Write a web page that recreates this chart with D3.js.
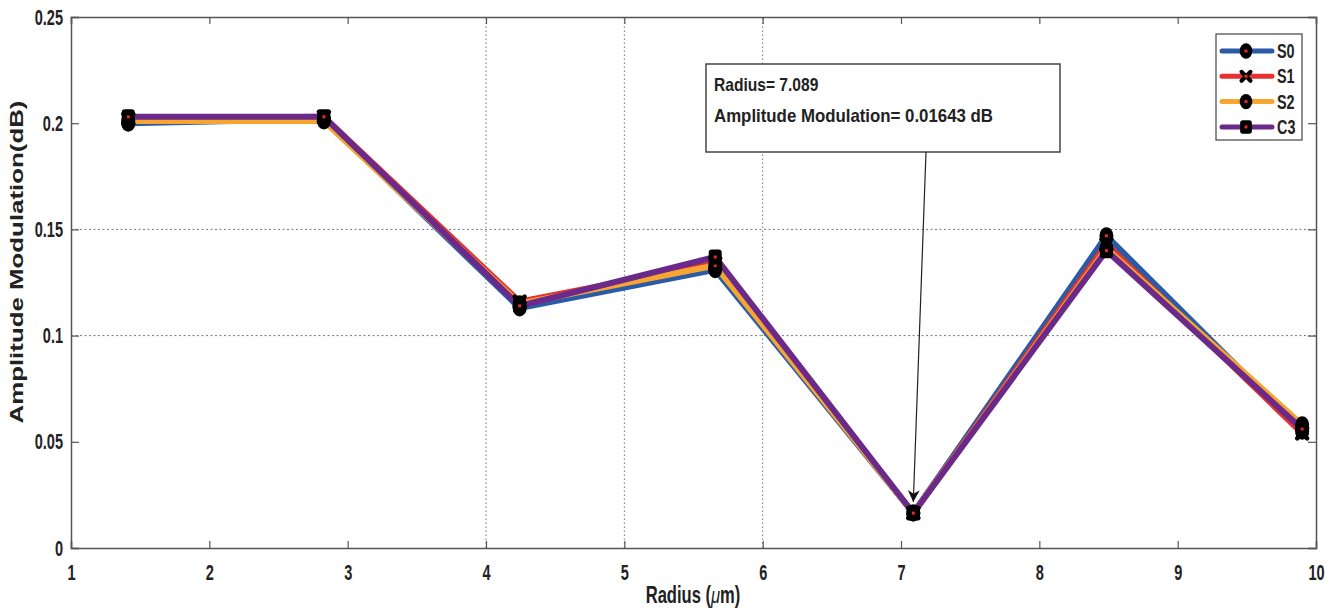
<!DOCTYPE html>
<html>
<head>
<meta charset="utf-8">
<script src="https://cdnjs.cloudflare.com/ajax/libs/d3/7.8.5/d3.min.js"></script>
<style>
body { margin: 0; background: #fff; }
text { font-family: "Liberation Sans", Arial, sans-serif; font-weight: bold; fill: #222; }
</style>
</head>
<body>
<svg id="chart" width="1336" height="609"></svg>
<script>
var radius = [1.414, 2.828, 4.243, 5.657, 7.089, 8.485, 9.9];
var s0 = [0.200, 0.202, 0.113, 0.131, 0.01643, 0.147, 0.055];
var s1 = [0.202, 0.203, 0.116, 0.134, 0.01643, 0.143, 0.054];
var s2 = [0.201, 0.201, 0.115, 0.133, 0.01643, 0.141, 0.058];
var c3 = [0.203, 0.203, 0.114, 0.137, 0.01643, 0.140, 0.056];
var seriesNames = ["S0", "S1", "S2", "C3"];
var xTicks = [1, 2, 3, 4, 5, 6, 7, 8, 9, 10];
var yTicks = [0, 0.05, 0.1, 0.15, 0.2, 0.25];
var xGrid = [4, 5, 6];
var yGrid = [0.1, 0.15];

var series = [
	{ name: seriesNames[0], values: s0, color: "#2b5ba6", marker: "circle" },
	{ name: seriesNames[1], values: s1, color: "#e3322f", marker: "cross" },
	{ name: seriesNames[2], values: s2, color: "#f6a530", marker: "circle" },
	{ name: seriesNames[3], values: c3, color: "#6b2a8a", marker: "square" }
];

var svg = d3.select("#chart"),
	margin = { left: 71, right: 20, top: 17, bottom: 61 },
	width = +svg.attr("width"),
	height = +svg.attr("height");

var x = d3.scaleLinear().domain([1, 10]).range([margin.left, width - margin.right]);
var y = d3.scaleLinear().domain([0, 0.25]).range([height - margin.bottom, margin.top]);

// squeeze text horizontally, the original uses a tall narrow font
function condense(sel, k) {
	sel.each(function() {
		var w = this.getComputedTextLength();
		d3.select(this).attr("textLength", w * k).attr("lengthAdjust", "spacingAndGlyphs");
	});
}

// grid
var g_grid = svg.append("g");
g_grid.selectAll(".vg").data(xGrid).enter().append("line")
	.attr("x1", d => x(d)).attr("x2", d => x(d))
	.attr("y1", y(0)).attr("y2", y(0.25))
	.attr("stroke", "#777").attr("stroke-width", 1).attr("stroke-dasharray", "1.5,2.5");
g_grid.selectAll(".hg").data(yGrid).enter().append("line")
	.attr("x1", x(1)).attr("x2", x(10))
	.attr("y1", d => y(d)).attr("y2", d => y(d))
	.attr("stroke", "#777").attr("stroke-width", 1).attr("stroke-dasharray", "2,2.5");

// axes (ticks inward, box)
var axisColor = "#555";
function styleAxis(g) {
	g.select(".domain").attr("stroke", axisColor).attr("stroke-width", 1.5);
	g.selectAll(".tick line").attr("stroke", axisColor).attr("stroke-width", 1.2);
	g.selectAll(".tick text").attr("font-size", 22).attr("fill", "#222")
		.style("font-family", "'Liberation Sans', Arial, sans-serif").style("font-weight", "bold");
	condense(g.selectAll(".tick text"), 0.66);
}
var xAxis = svg.append("g").attr("transform", "translate(0," + y(0) + ")")
	.call(d3.axisBottom(x).tickValues(xTicks).tickSize(-7).tickPadding(16).tickFormat(d3.format("d")));
styleAxis(xAxis);
var xTop = svg.append("g").attr("transform", "translate(0," + y(0.25) + ")")
	.call(d3.axisTop(x).tickValues(xTicks).tickSize(-7).tickFormat(""));
styleAxis(xTop);
var yAxis = svg.append("g").attr("transform", "translate(" + x(1) + ",0)")
	.call(d3.axisLeft(y).tickValues(yTicks).tickSize(-8).tickPadding(8).tickFormat(function(d) { return d === 0 ? "0" : String(d); }));
styleAxis(yAxis);
var yRight = svg.append("g").attr("transform", "translate(" + x(10) + ",0)")
	.call(d3.axisRight(y).tickValues(yTicks).tickSize(-8).tickFormat(""));
styleAxis(yRight);

// axis labels
var xl = svg.append("text").attr("transform", "translate(693,603) scale(0.72,1)")
	.attr("text-anchor", "middle").attr("font-size", 23);
xl.append("tspan").text("Radius (");
xl.append("tspan").style("font-style", "italic").style("font-weight", "normal").text("\u03bc");
xl.append("tspan").text("m)");
svg.append("text").attr("transform", "translate(23,262) rotate(-90)")
	.attr("text-anchor", "middle").attr("font-size", 19)
	.attr("textLength", 323).attr("lengthAdjust", "spacingAndGlyphs")
	.text("Amplitude Modulation(dB)");

// lines
var line = d3.line().x((d, i) => x(radius[i])).y(d => y(d));
var g_line = svg.append("g");
series.forEach(function(s) {
	g_line.append("path").attr("d", line(s.values))
		.attr("fill", "none").attr("stroke", s.color).attr("stroke-width", 6)
		.attr("stroke-linejoin", "round");
});

// markers
function drawMarker(g, type, cx, cy, scale) {
	scale = scale || 1;
	if (type === "cross") {
		var r = 5 * scale;
		g.append("path").attr("d", "M" + (cx - r) + "," + (cy - r) + "L" + (cx + r) + "," + (cy + r) + "M" + (cx - r) + "," + (cy + r) + "L" + (cx + r) + "," + (cy - r))
			.attr("stroke", "#000").attr("stroke-width", 4.5 * scale).attr("stroke-linecap", "round");
	} else if (type === "square") {
		g.append("rect").attr("x", cx - 6.5 * scale).attr("y", cy - 7.5 * scale)
			.attr("width", 13 * scale).attr("height", 15 * scale).attr("rx", 3 * scale)
			.attr("fill", "#000");
	} else {
		g.append("ellipse").attr("cx", cx).attr("cy", cy).attr("rx", 7 * scale).attr("ry", 8.5 * scale).attr("fill", "#000");
	}
	g.append("rect").attr("x", cx - 1.5).attr("y", cy - 1.5).attr("width", 3).attr("height", 3).attr("fill", "#e52a2a");
}
var g_mark = svg.append("g");
series.forEach(function(s) {
	s.values.forEach(function(v, i) {
		drawMarker(g_mark, s.marker, x(radius[i]), y(v));
	});
});

// annotation
var ann = svg.append("g");
var bx = 706, by = 64, bw = 354, bh = 88;
ann.append("rect").attr("x", bx).attr("y", by).attr("width", bw).attr("height", bh)
	.attr("fill", "#fff").attr("stroke", "#444").attr("stroke-width", 1.5);
var t1 = ann.append("text").attr("x", bx + 8).attr("y", by + 27).attr("font-size", 19).text("Radius= 7.089");
var t2 = ann.append("text").attr("x", bx + 8).attr("y", by + 58).attr("font-size", 19).text("Amplitude Modulation= 0.01643 dB");
condense(t1, 0.82);
t2.attr("textLength", 279).attr("lengthAdjust", "spacingAndGlyphs");
svg.append("defs").append("marker").attr("id", "arrow").attr("viewBox", "0 0 10 10")
	.attr("refX", 10).attr("refY", 5).attr("markerWidth", 16).attr("markerHeight", 12)
	.attr("markerUnits", "userSpaceOnUse").attr("orient", "auto")
	.append("path").attr("d", "M0,0 L10,5 L0,10 L3,5 Z").attr("fill", "#111");
ann.append("line").attr("x1", 926).attr("y1", by + bh)
	.attr("x2", x(radius[4])).attr("y2", y(s0[4]) - 11)
	.attr("stroke", "#222").attr("stroke-width", 1.2).attr("marker-end", "url(#arrow)");

// legend
var lg = svg.append("g");
lg.append("rect").attr("x", 1216).attr("y", 34).attr("width", 86).attr("height", 106)
	.attr("fill", "#fff").attr("stroke", "#444").attr("stroke-width", 1.2);
series.forEach(function(s, i) {
	var ly = 51 + i * 25.3;
	lg.append("line").attr("x1", 1222).attr("x2", 1272).attr("y1", ly).attr("y2", ly)
		.attr("stroke", s.color).attr("stroke-width", 5).attr("stroke-linecap", "round");
	drawMarker(lg, s.marker, 1246, ly, 0.9);
	var lt = lg.append("text").attr("x", 1277).attr("y", ly + 7).attr("font-size", 20).text(s.name);
	condense(lt, 0.72);
});
</script>
</body>
</html>
